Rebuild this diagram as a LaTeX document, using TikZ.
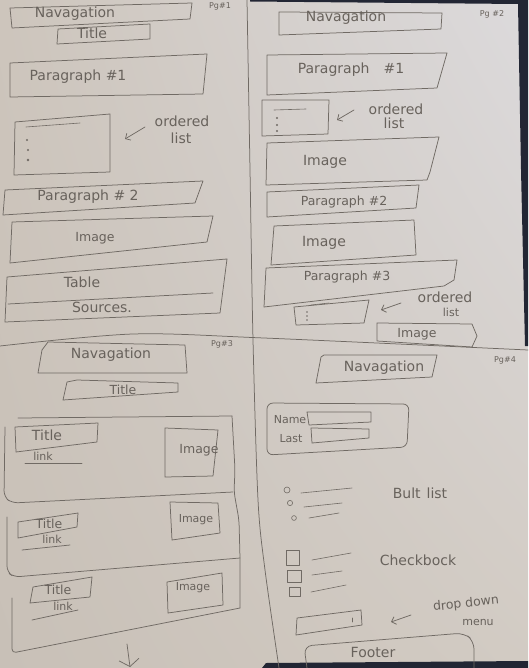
\documentclass[tikz,border=0pt]{standalone}
\usepackage{fontspec}
\newfontfamily\handfont{DejaVu Sans}
\usetikzlibrary{arrows.meta,shadings}
\definecolor{paperA}{RGB}{205,197,188}
\definecolor{paperB}{RGB}{220,218,220}
\definecolor{paperC}{RGB}{200,192,183}
\definecolor{paperD}{RGB}{210,203,195}
\definecolor{lead}{RGB}{112,106,100}
\definecolor{leadtext}{RGB}{104,98,92}
\definecolor{backdrop}{RGB}{34,38,52}
\begin{document}
\begin{tikzpicture}[x=1pt,y=-1pt,
  pencil/.style={draw=lead,line width=0.75pt,line cap=round,line join=round},
  hand/.style={text=leadtext,inner sep=0pt,font=\handfont\fontsize{14}{16}\selectfont},
  handM/.style={hand,font=\handfont\fontsize{12.5}{14}\selectfont},
  handS/.style={hand,font=\handfont\fontsize{11}{13}\selectfont},
  handXS/.style={hand,font=\handfont\fontsize{8}{9}\selectfont},
  pointer/.style={pencil,-{Straight Barb[length=4pt,width=8pt]}},
  bullet/.style={pencil,line width=0.6pt}]

% sheet of paper and the desk around it
\useasboundingbox (0,0) rectangle (528,668);
\shade[upper left=paperA,upper right=paperB,lower left=paperC,lower right=paperD]
  (0,0) rectangle (528,668);
\fill[backdrop] (250,0) -- (528,0) -- (528,346) -- (525,346) -- (521,170) -- (518,4) -- (250,1.5) -- cycle;
\fill[backdrop] (262,668) -- (266,663) -- (528,661) -- (528,668) -- cycle;

% fold lines splitting the sheet into four pages
\draw[pencil] plot[smooth] coordinates {(247,0) (250,170) (253,340) (258,500) (265,570) (279,668)};
\draw[pencil] plot[smooth] coordinates {(0,346) (133,334) (264,338) (528,350)};

% ---------------- page 1 ----------------
\draw[pencil] (10,8) -- (192,3) -- (190,19) -- (12,28) -- cycle;
\node[hand] (navA) at (75,14) {Navagation};
\draw[pencil] (58,29) -- (150,24) -- (150,39) -- (57,44) -- cycle;
\node[hand] (titleA) at (92,33) {Title};
\node[handXS] (pgA) at (220,6) {Pg\#1};

\draw[pencil] (10,63) -- (207,54) -- (203,94) -- (10,97) -- cycle;
\node[hand] (paraAa) at (78,77) {Paragraph \#1};

\draw[pencil] (15,122) -- (110,114) -- (110,172) -- (14,175) -- cycle;
\draw[bullet] (26,127) -- (80,123);
\fill[lead] (27,140) circle (1.2) (28,150) circle (1.2) (28,160) circle (1.4);
\node[hand] (olAa) at (182,121) {ordered};
\node[hand] (olAb) at (181,138) {list};
\coordinate (arAs) at (145,127);
\coordinate (arAe) at (125,139);
\draw[pointer] (arAs) -- (arAe);

\draw[pencil] (5,190) -- (203,181) -- (195,203) -- (3,215) -- cycle;
\node[hand] (paraAb) at (88,197) {Paragraph \# 2};

\draw[pencil] (12,222) -- (213,216) -- (207,242) -- (10,263) -- cycle;
\node[handM] (imgA) at (95,238) {Image};

\draw[pencil] (7,277) -- (227,259) -- (220,313) -- (5,322) -- cycle;
\draw[pencil] (8,304) -- (213,293);
\node[hand] (tableA) at (82,282) {Table};
\node[hand] (srcA) at (102,307) {Sources.};

% ---------------- page 2 ----------------
\draw[pencil] (279,12) -- (442,13) -- (441,29) -- (279,35) -- cycle;
\node[hand] (navB) at (346,18) {Navagation};
\node[handXS] (pgB) at (492,14) {Pg \#2};

\draw[pencil] (267,55) -- (447,53) -- (437,88) -- (267,95) -- cycle;
\node[hand] (paraBa) at (351,70) {Paragraph\hspace{14pt}\#1};

\draw[pencil] (262,100) -- (329,100) -- (328,134) -- (262,136) -- cycle;
\draw[bullet] (274,110) -- (306,109);
\fill[lead] (277,118) circle (1.1) (277,125) circle (1.1) (277,131) circle (1.1);
\node[hand] (olBa) at (396,109) {ordered};
\node[hand] (olBb) at (394,123) {list};
\coordinate (arBs) at (354,110);
\coordinate (arBe) at (337,120);
\draw[pointer] (arBs) -- (arBe);

\draw[pencil] (267,143) -- (439,137) -- (430,172) -- (427,180) -- (266,185) -- cycle;
\node[hand] (imgBa) at (325,162) {Image};

\draw[pencil] (267,192) -- (419,185) -- (416,208) -- (267,217) -- cycle;
\node[handM] (paraBb) at (344,202) {Paragraph \#2};

\draw[pencil] (274,226) -- (414,220) -- (416,255) -- (271,265) -- cycle;
\node[hand] (imgBb) at (324,243) {Image};

\draw[pencil] (266,268) -- (457,260) -- (454,280) -- (444,286) -- (264,307) -- cycle;
\node[handM] (paraBc) at (347,277) {Paragraph \#3};

\draw[pencil] (294,307) -- (369,300) -- (364,323) -- (296,325) -- cycle;
\draw[bullet] (311,305) -- (329,303);
\fill[lead] (307,312) circle (0.9) (307,316) circle (0.9) (307,320) circle (0.9);
\node[hand] (olCa) at (445,297) {ordered};
\node[handS] (olCb) at (451,312) {list};
\coordinate (arCs) at (401,303);
\coordinate (arCe) at (381,310);
\draw[pointer] (arCs) -- (arCe);

\draw[pencil] (377,323) -- (472,324) -- (477,336) -- (472,347) -- (377,341) -- cycle;
\node[handM] (imgBc) at (417,334) {Image};

% ---------------- page 3 ----------------
\draw[pencil] (48,342) -- (185,345) -- (187,373) -- (38,373) -- (42,350) -- cycle;
\node[hand] (navC) at (111,355) {Navagation};
\node[handXS] (pgC) at (222,344) {Pg\#3};
\draw[pencil] (77,380) -- (178,383) -- (178,392) -- (63,400) -- (67,382) -- cycle;
\node[handM] (titleC) at (123,390) {Title};

% stacked cards, each sharing an edge with the next
\draw[pencil] (18,418) -- (232,416);
\draw[pencil,rounded corners=6] (232,416) -- (235,470) -- (234,492) -- (239,520) -- (240,558) -- (240,608);
\draw[pencil,rounded corners=6] (5,427) -- (4,497) -- (12,503) -- (233,492);
\draw[pencil,rounded corners=6] (7,517) -- (7,572) -- (14,577) -- (240,558);
\draw[pencil,rounded corners=4] (12,598) -- (12,653) -- (240,608);

\draw[pencil] (15,427) -- (98,423) -- (97,442) -- (16,452) -- cycle;
\node[hand] (titleCa) at (47,435) {Title};
\node[handS] (linkCa) at (43,456) {link};
\draw[pencil] (25,463) -- (82,463);
\draw[pencil] (165,428) -- (218,430) -- (213,476) -- (165,477) -- cycle;
\node[handM] (imgCa) at (199,450) {Image};

\draw[pencil] (18,522) -- (78,513) -- (77,527) -- (18,538) -- cycle;
\node[handM] (titleCb) at (49,524) {Title};
\node[handS] (linkCb) at (52,539) {link};
\draw[pencil] (22,550) -- (70,545);
\draw[pencil] (170,502) -- (218,503) -- (220,533) -- (172,540) -- cycle;
\node[handS] (imgCb) at (196,520) {Image};

\draw[pencil] (33,587) -- (92,577) -- (90,597) -- (30,603) -- cycle;
\node[handM] (titleCc) at (58,590) {Title};
\node[handS] (linkCc) at (63,606) {link};
\draw[pencil] (32,620) -- (78,610);
\draw[pencil] (167,582) -- (222,573) -- (223,605) -- (168,613) -- cycle;
\node[handS] (imgCc) at (193,588) {Image};

\coordinate (moreA) at (127,644);
\coordinate (moreB) at (130,667);
\draw[pencil,-{Straight Barb[length=7pt,width=20pt]}] (moreA) -- (moreB);

% ---------------- page 4 ----------------
\draw[pencil] (324,355) -- (437,355) -- (432,377) -- (316,383) -- (321,357) -- cycle;
\node[hand] (navD) at (384,368) {Navagation};
\node[handXS] (pgD) at (505,360) {Pg\#4};

\draw[pencil,rounded corners=6] (267,403) -- (409,404) -- (407,447) -- (267,455) -- cycle;
\node[handS] (nameD) at (290,420) {Name};
\draw[pencil] (307,412) -- (371,412) -- (371,422) -- (309,425) -- cycle;
\node[handS] (lastD) at (291,439) {Last};
\draw[pencil] (311,428) -- (369,429) -- (369,438) -- (312,443) -- cycle;

\draw[bullet] (287,490) circle (3) (290,503) circle (2.6) (294,518) circle (2.4);
\draw[bullet] (301,493) -- (352,488) (304,507) -- (342,503) (309,518) -- (339,513);
\node[hand] (bulD) at (420,493) {Bult\hspace{6pt}list};

\draw[bullet] (286,550) rectangle (299,565) (287,570) rectangle (301,582) (289,587) rectangle (300,596);
\draw[bullet] (312,560) -- (351,553) (312,575) -- (342,571) (311,592) -- (346,585);
\node[hand] (chkD) at (418,560) {Checkbock};

\draw[pencil] (297,618) -- (361,610) -- (362,625) -- (296,635) -- cycle;
\draw[bullet] (352,618) -- (352,622);
\node[handM,rotate=6] (ddD) at (466,604) {drop down};
\node[handS] (ddE) at (478,622) {menu};
\coordinate (arDs) at (411,615);
\coordinate (arDe) at (391,622);
\draw[pointer] (arDs) -- (arDe);

\draw[pencil,rounded corners=8] (307,668) -- (304,646) -- (464,633) -- (474,641) -- (474,668);
\node[hand] (footD) at (373,652) {Footer};
\end{tikzpicture}
\end{document}
